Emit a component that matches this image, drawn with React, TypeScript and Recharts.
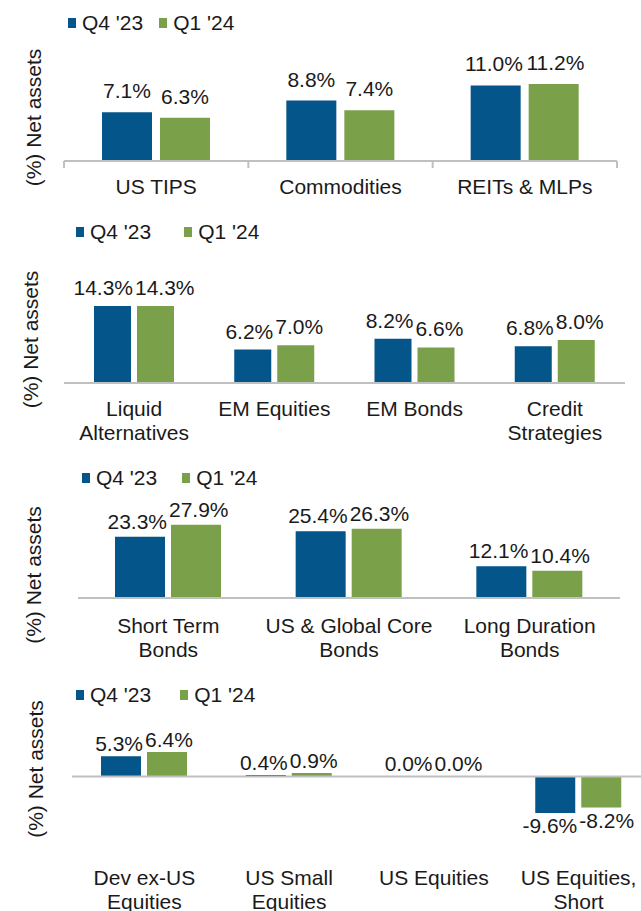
import React from "react";
import {
  BarChart, Bar, XAxis, YAxis, Legend, LabelList, ReferenceLine,
} from "recharts";

const seriesNames = ["Q4 '23", "Q1 '24"];

const realAssetCats = ["US TIPS", "Commodities", "REITs & MLPs"];
const realAssetQ4 = [7.1, 8.8, 11.0];
const realAssetQ1 = [6.3, 7.4, 11.2];

const diversifierCats = ["Liquid\nAlternatives", "EM Equities", "EM Bonds", "Credit\nStrategies"];
const diversifierQ4 = [14.3, 6.2, 8.2, 6.8];
const diversifierQ1 = [14.3, 7.0, 6.6, 8.0];

const bondCats = ["Short Term\nBonds", "US & Global Core\nBonds", "Long Duration\nBonds"];
const bondQ4 = [23.3, 25.4, 12.1];
const bondQ1 = [27.9, 26.3, 10.4];

const equityCats = ["Dev ex-US\nEquities", "US Small\nEquities", "US Equities", "US Equities,\nShort"];
const equityQ4 = [5.3, 0.4, 0.0, -9.6];
const equityQ1 = [6.4, 0.9, 0.0, -8.2];

const COLORS = ["#03558A", "#7AA04A"];
const FONT = '"Liberation Sans", Arial, sans-serif';
const INK = "#1a1a1a";
const AXIS = "#C0C0C0";
const FS = 21;

const rows = (cats: string[], a: number[], b: number[]) =>
  cats.map((name, i) => ({ name, q4: a[i], q1: b[i] }));

const fmt = (v: any) => `${Number(v).toFixed(1)}%`;

// rough Arial advance widths, used to push touching labels apart like Excel does
const CHAR_W: Record<string, number> = { ".": 0.278, "%": 0.889, "-": 0.333 };
const textWidth = (s: string) => [...s].reduce((w, c) => w + (CHAR_W[c] ?? 0.556), 0) * FS;

interface PanelCfg {
  data: { name: string; q4: number; q1: number }[];
  top: number;
  width: number;
  height: number;
  plotTop: number;
  bottom: number;
  left: number;
  right: number;
  domain: [number, number];
  barSize: number;
  barGap: number;
  labelOffset: number;
  tickFirst: number;
  tickLh: number;
  legendTop: number;
  legendLeft: number;
  legendGap: number;
  yLabelDx: number;
  yLabelDy: number;
  boundaryTicks?: boolean;
  zeroLine?: boolean;
}

const CatTick = (props: any) => {
  const { x, y, payload, first, lh, bounds, index, visibleTicksCount, width } = props;
  const lines = String(payload.value).split("\n");
  const half = typeof payload.offset === "number" && payload.offset > 0
    ? payload.offset
    : width / (visibleTicksCount || 1) / 2;
  const last = index === (visibleTicksCount || 1) - 1;
  return (
    <g>
      {bounds && (
        <line x1={x - half} x2={x - half} y1={y} y2={y + 7} stroke={AXIS} strokeWidth={2} />
      )}
      {bounds && last && (
        <line x1={x + half} x2={x + half} y1={y} y2={y + 7} stroke={AXIS} strokeWidth={2} />
      )}
      <text x={x} y={y} textAnchor="middle" fill={INK} fontSize={FS} fontFamily={FONT}>
        {lines.map((l, i) => (
          <tspan key={i} x={x} dy={i === 0 ? first : lh}>{l}</tspan>
        ))}
      </text>
    </g>
  );
};

const valueLabel = (side: number, cfg: PanelCfg) => (props: any) => {
  const vb = props.viewBox && props.viewBox.width != null ? props.viewBox : props;
  const { x, y, width, height } = vb;
  const v = Number(props.value);
  const text = fmt(v);
  const room = cfg.barSize + cfg.barGap;
  const nudge = side * Math.max(0, (textWidth(text) + 2 - room) / 2);
  const top = Math.min(y, y + height);
  const bottom = Math.max(y, y + height);
  const ty = v < 0 ? bottom + cfg.labelOffset + FS * 0.72 : top - cfg.labelOffset;
  return (
    <text x={x + width / 2 + nudge} y={ty} textAnchor="middle" fill={INK} fontSize={FS} fontFamily={FONT}>
      {text}
    </text>
  );
};

const legendContent = (gap: number) => (props: any) => {
  const items = [...(props.payload || [])].sort(
    (a: any, b: any) => seriesNames.indexOf(a.value) - seriesNames.indexOf(b.value)
  );
  return (
    <div style={{ display: "flex", alignItems: "center", fontFamily: FONT, fontSize: FS, color: INK, lineHeight: "22px" }}>
      {items.map((p: any) => (
        <div key={p.value} style={{ display: "flex", alignItems: "center", marginRight: gap }}>
          <span style={{ display: "inline-block", width: 8, height: 10, background: p.color, marginRight: 6 }} />
          <span>{p.value}</span>
        </div>
      ))}
    </div>
  );
};

function Panel({ cfg }: { cfg: PanelCfg }) {
  const tick = (p: any) => (
    <CatTick {...p} first={cfg.tickFirst} lh={cfg.tickLh} bounds={cfg.boundaryTicks} />
  );
  return (
    <div style={{ position: "absolute", left: 0, top: cfg.top }}>
      <BarChart
        width={cfg.width}
        height={cfg.height}
        data={cfg.data}
        margin={{ top: cfg.plotTop, right: cfg.right, bottom: 0, left: 0 }}
        barSize={cfg.barSize}
        barGap={cfg.barGap}
      >
        <XAxis
          dataKey="name"
          height={cfg.bottom}
          tickSize={0}
          tickMargin={0}
          interval={0}
          axisLine={cfg.zeroLine ? false : { stroke: AXIS, strokeWidth: 2 }}
          tickLine={false}
          tick={tick}
        />
        <YAxis
          type="number"
          domain={cfg.domain}
          allowDataOverflow
          width={cfg.left}
          tick={false}
          axisLine={false}
          tickLine={false}
          label={{
            value: "(%) Net assets",
            angle: -90,
            position: "center",
            dx: cfg.yLabelDx,
            dy: cfg.yLabelDy,
            fill: INK,
            fontSize: FS,
            fontFamily: FONT,
          }}
        />
        <Legend
          verticalAlign="middle"
          align="center"
          layout="horizontal"
          wrapperStyle={{ top: cfg.legendTop, left: cfg.legendLeft, width: "auto", height: 22 }}
          content={legendContent(cfg.legendGap)}
        />
        {cfg.zeroLine && <ReferenceLine y={0} stroke={AXIS} strokeWidth={2} />}
        <Bar dataKey="q4" name={seriesNames[0]} fill={COLORS[0]} minPointSize={0.01} isAnimationActive={false}>
          <LabelList dataKey="q4" content={valueLabel(-1, cfg)} />
        </Bar>
        <Bar dataKey="q1" name={seriesNames[1]} fill={COLORS[1]} minPointSize={0.01} isAnimationActive={false}>
          <LabelList dataKey="q1" content={valueLabel(1, cfg)} />
        </Bar>
      </BarChart>
    </div>
  );
}

const panels: PanelCfg[] = [
  {
    data: rows(realAssetCats, realAssetQ4, realAssetQ1),
    top: 0, width: 641, height: 220, plotTop: 58, bottom: 59,
    left: 64, right: 24, domain: [0, 15],
    barSize: 50, barGap: 8, labelOffset: 14, tickFirst: 33, tickLh: 24,
    legendTop: 12, legendLeft: 68, legendGap: 16, yLabelDx: 2, yLabelDy: 8,
    boundaryTicks: true,
  },
  {
    data: rows(diversifierCats, diversifierQ4, diversifierQ1),
    top: 220, width: 641, height: 230, plotTop: 66, bottom: 67,
    left: 64, right: 16, domain: [0, 18],
    barSize: 37, barGap: 6, labelOffset: 11, tickFirst: 33, tickLh: 24,
    legendTop: 1, legendLeft: 76, legendGap: 33, yLabelDx: -1, yLabelDy: 5,
  },
  {
    data: rows(bondCats, bondQ4, bondQ1),
    top: 450, width: 641, height: 220, plotTop: 56, bottom: 72,
    left: 78, right: 21, domain: [0, 35],
    barSize: 50, barGap: 6, labelOffset: 8, tickFirst: 35, tickLh: 24,
    legendTop: 17, legendLeft: 82, legendGap: 25, yLabelDx: -5, yLabelDy: 23,
  },
  {
    data: rows(equityCats, equityQ4, equityQ1),
    top: 670, width: 660, height: 241, plotTop: 76, bottom: 89,
    left: 72, right: 9, domain: [-12, 8],
    barSize: 40, barGap: 6, labelOffset: 5, tickFirst: 63, tickLh: 24,
    legendTop: 14, legendLeft: 76, legendGap: 29, yLabelDx: 0, yLabelDy: -15,
    zeroLine: true,
  },
];

export default function App() {
  return (
    <div style={{ position: "absolute", left: 0, top: 0, width: 641, height: 911, overflow: "hidden", background: "#fff", fontFamily: FONT }}>
      {panels.map((cfg, i) => <Panel key={i} cfg={cfg} />)}
    </div>
  );
}
